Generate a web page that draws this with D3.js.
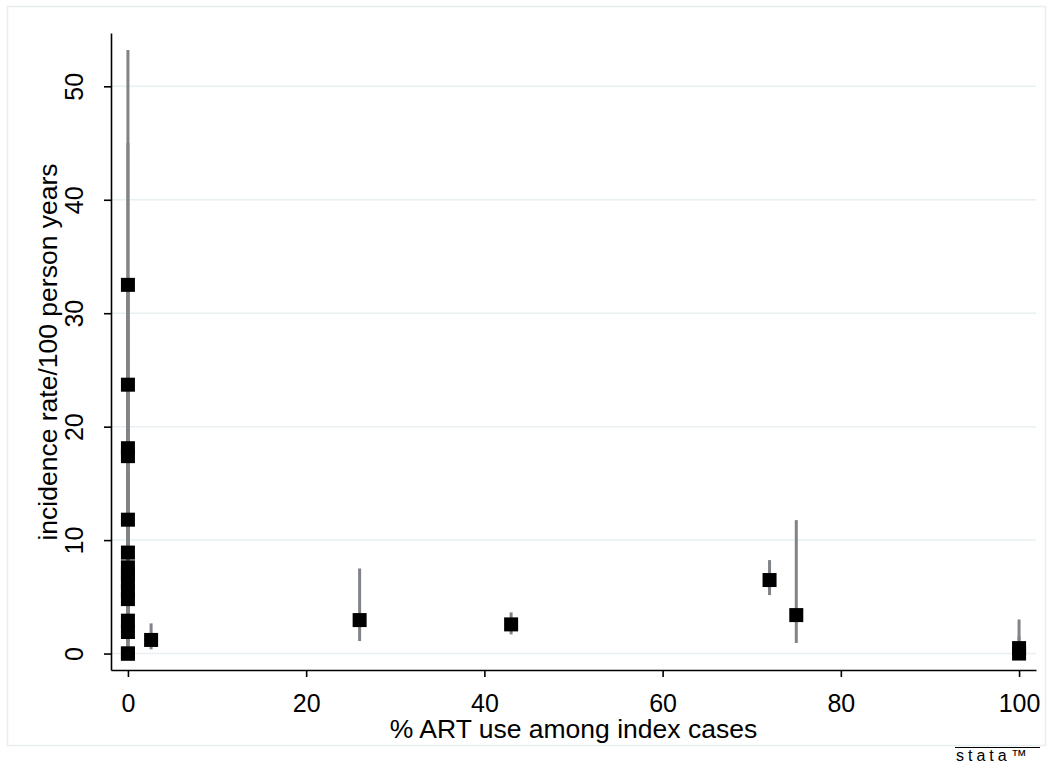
<!DOCTYPE html>
<html>
<head>
<meta charset="utf-8">
<script src="https://cdn.jsdelivr.net/npm/d3@7"></script>
<style>
  body { margin: 0; background: #fff; }
  svg text { font-family: "Liberation Sans", Arial, sans-serif; fill: #000; }
</style>
</head>
<body>
<div id="chart"></div>
<script>
// % ART use among index cases, incidence rate/100 person years, 95% CI
var artUse = [0, 0, 0, 0, 0, 0, 0, 0, 0, 0, 0, 0, 0, 0, 0, 2.6, 26, 43, 72, 75, 100, 100];
var rate   = [32.5, 23.7, 18.1, 17.4, 11.8, 8.9, 7.6, 7.0, 6.3, 5.5, 4.8, 2.9, 1.9, 0, 0, 1.2, 2.95, 2.57, 6.48, 3.39, 0.48, 0];
var ciLow  = [14.0, 11.0, 9.0, 8.5, 5.0, 4.5, 3.8, 3.2, 2.9, 2.4, 2.0, 1.0, 0.6, 0, 0, 0.37, 1.1, 1.69, 5.15, 0.93, 0.06, 0];
var ciHigh = [53.2, 45.0, 33.0, 32.0, 24.0, 16.0, 14.0, 13.0, 12.0, 11.0, 10.0, 7.0, 5.5, 8.0, 4.0, 2.66, 7.5, 3.63, 8.24, 11.76, 3.0, 1.5];
var xTicks = [0, 20, 40, 60, 80, 100];
var yTicks = [0, 10, 20, 30, 40, 50];

var W = 1053, H = 774;
var df = artUse.map(function(d, i) {
    return {x: d, y: rate[i], lo: ciLow[i], hi: ciHigh[i]};
});

var svg = d3.select("#chart").append("svg")
    .attr("width", W)
    .attr("height", H);

// outer graph region
svg.append("rect")
    .attr("x", 7.5).attr("y", 6.5)
    .attr("width", 1038).attr("height", 739)
    .attr("fill", "#fff")
    .attr("stroke", "#e6eef0")
    .attr("stroke-width", 1.5);

var x = d3.scaleLinear().domain([-1.9, 101.9]).range([111, 1036]);
var y = d3.scaleLinear().domain([-1.45, 54.7]).range([670, 33]);

// gridlines
svg.append("g").selectAll("line")
    .data(yTicks)
    .enter().append("line")
    .attr("x1", 111).attr("x2", 1036)
    .attr("y1", function(d) { return y(d); })
    .attr("y2", function(d) { return y(d); })
    .attr("stroke", "#e8f0f2")
    .attr("stroke-width", 1.5);

// confidence intervals
svg.append("g").selectAll("line")
    .data(df)
    .enter().append("line")
    .attr("x1", function(d) { return x(d.x); })
    .attr("x2", function(d) { return x(d.x); })
    .attr("y1", function(d) { return y(d.lo); })
    .attr("y2", function(d) { return y(d.hi); })
    .attr("stroke", "#808387")
    .attr("stroke-width", 3);

// point estimates
var s = 14;
svg.append("g").selectAll("rect")
    .data(df)
    .enter().append("rect")
    .attr("x", function(d) { return x(d.x) - s / 2; })
    .attr("y", function(d) { return y(d.y) - s / 2; })
    .attr("width", s).attr("height", s)
    .attr("fill", "#000");

// axes
var xAxis = d3.axisBottom(x).tickValues(xTicks).tickSize(7).tickSizeOuter(0).tickPadding(17);
var yAxis = d3.axisLeft(y).tickValues(yTicks).tickSize(7).tickSizeOuter(0);

var gx = svg.append("g")
    .attr("transform", "translate(0, 670)")
    .call(xAxis);
gx.attr("font-size", 25).attr("font-family", null);

var gy = svg.append("g")
    .attr("transform", "translate(111, 0)")
    .call(yAxis);
gy.attr("font-size", 25).attr("font-family", null);
gy.selectAll("text")
    .attr("x", null).attr("dy", null)
    .attr("text-anchor", "middle")
    .attr("transform", "translate(-28, 0) rotate(-90)");

[gx, gy].forEach(function(g) {
    g.select(".domain").attr("stroke", "#000").attr("stroke-width", 1.6);
    g.selectAll(".tick line").attr("stroke", "#000").attr("stroke-width", 1.6);
});

// axis titles
svg.append("text")
    .attr("x", 573.5).attr("y", 738)
    .attr("text-anchor", "middle")
    .attr("font-size", 26.5)
    .text("% ART use among index cases");

svg.append("text")
    .attr("transform", "translate(57, 352) rotate(-90)")
    .attr("text-anchor", "middle")
    .attr("font-size", 26.5)
    .text("incidence rate/100 person years");

// stata logo
svg.append("line")
    .attr("x1", 955).attr("x2", 1040)
    .attr("y1", 747.5).attr("y2", 747.5)
    .attr("stroke", "#000").attr("stroke-width", 1.2);
svg.append("text")
    .attr("x", 956).attr("y", 761)
    .attr("font-size", 16)
    .attr("letter-spacing", 4)
    .attr("font-family", "DejaVu Sans, sans-serif")
    .style("font-weight", 200)
    .text("stata\u2122");
</script>
</body>
</html>
